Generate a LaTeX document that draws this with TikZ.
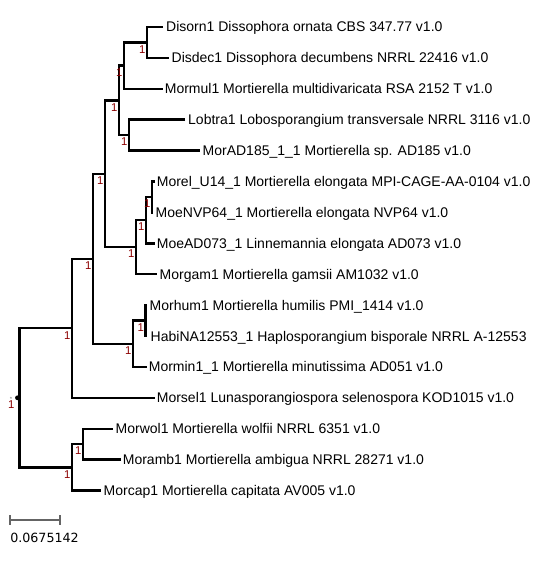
\documentclass[tikz,border=0pt]{standalone}
\usepackage{fontspec}
\setmainfont{Liberation Sans}
\newfontfamily\dejavu{DejaVu Sans}
\definecolor{suppred}{RGB}{140,0,0}
\definecolor{scalegrey}{RGB}{100,100,100}
\begin{document}
\begin{tikzpicture}[x=0.75pt,y=-0.75pt,
  branch/.style={line width=1.8pt, black, line join=miter},
  tiplabel/.style={anchor=base west, inner sep=0pt, font=\fontsize{10.5pt}{12pt}\selectfont},
  supp/.style={anchor=north east, inner sep=0pt, text=suppred, font=\fontsize{8.5pt}{9pt}\selectfont},
  scalebar/.style={line width=1.3pt, scalegrey},
]
\useasboundingbox (0,0) rectangle (544,566);

% tips
\coordinate (t1) at (163,27);
\coordinate (t2) at (169,57.9);
\coordinate (t3) at (163,88.8);
\coordinate (t4) at (185,119.7);
\coordinate (t5) at (200,150.6);
\coordinate (t6) at (155,181.5);
\coordinate (t7) at (153,212.4);
\coordinate (t8) at (155,243.3);
\coordinate (t9) at (157,274.2);
\coordinate (t10) at (147,305.1);
\coordinate (t11) at (147,336);
\coordinate (t12) at (147,366.9);
\coordinate (t13) at (155,397.8);
\coordinate (t14) at (113,428.7);
\coordinate (t15) at (121,459.6);
\coordinate (t16) at (101,490.5);

% internal nodes
\coordinate (G) at (147,42.45);
\coordinate (H) at (124,65.63);
\coordinate (I) at (129,135.15);
\coordinate (F) at (119,100.39);
\coordinate (L) at (152,196.95);
\coordinate (K) at (146,220.13);
\coordinate (J) at (136,247.16);
\coordinate (E) at (105,173.78);
\coordinate (N) at (145.5,320.55);
\coordinate (M) at (133,343.73);
\coordinate (D) at (93,258.75);
\coordinate (A) at (72,328.28);
\coordinate (C) at (83,444.15);
\coordinate (B) at (72,467.33);
\coordinate (R) at (19.5,397.8);

% branches
\draw[branch] (t1) -| (G) |- (t2);
\draw[branch] (G) -| (H) |- (t3);
\draw[branch] (t4) -| (I) |- (t5);
\draw[branch] (H) -| (F) |- (I);
\draw[branch] (t6) -| (L) |- (t7);
\draw[branch] (L) -| (K) |- (t8);
\draw[branch] (K) -| (J) |- (t9);
\draw[branch] (F) -| (E) |- (J);
\draw[branch] (t10) -| (N) |- (t11);
\draw[branch] (N) -| (M) |- (t12);
\draw[branch] (E) -| (D) |- (M);
\draw[branch] (D) -| (A) |- (t13);
\draw[branch] (t14) -| (C) |- (t15);
\draw[branch] (C) -| (B) |- (t16);
\draw[branch] (A) -| (R) |- (B);

% root marks
\fill[black] ([xshift=-1.5pt]R) circle (1.8pt);
\fill[black!35] ([xshift=-6.4pt]R) circle (0.8pt);
\node[supp] (sR) at ([xshift=-3.6pt,yshift=-2.2pt]R) {1};

% support labels
\foreach \n in {G,H,I,F,L,K,J,E,N,M,D,A,C,B}{
  \node[supp] (s\n) at ([xshift=-0.9pt,yshift=-2.0pt]\n) {1};
}

% tip labels
\node[tiplabel] (l1) at ([xshift=2.2pt,yshift=-3.75pt]t1) {Disorn1 Dissophora ornata CBS 347.77 v1.0};
\node[tiplabel] (l2) at ([xshift=1.8pt,yshift=-3.75pt]t2) {Disdec1 Dissophora decumbens NRRL 22416 v1.0};
\node[tiplabel] (l3) at ([xshift=1.2pt,yshift=-3.75pt]t3) {Mormul1 Mortierella multidivaricata RSA 2152 T v1.0};
\node[tiplabel] (l4) at ([xshift=2.2pt,yshift=-3.75pt]t4) {Lobtra1 Lobosporangium transversale NRRL 3116 v1.0};
\node[tiplabel] (l5) at ([xshift=1.8pt,yshift=-3.75pt]t5) {MorAD185\_1\_1 Mortierella sp. AD185 v1.0};
\node[tiplabel] (l6) at ([xshift=1.2pt,yshift=-3.75pt]t6) {Morel\_U14\_1 Mortierella elongata MPI-CAGE-AA-0104 v1.0};
\node[tiplabel] (l7) at ([xshift=1.8pt,yshift=-3.75pt]t7) {MoeNVP64\_1 Mortierella elongata NVP64 v1.0};
\node[tiplabel] (l8) at ([xshift=1.2pt,yshift=-3.75pt]t8) {MoeAD073\_1 Linnemannia elongata AD073 v1.0};
\node[tiplabel] (l9) at ([xshift=1.8pt,yshift=-3.75pt]t9) {Morgam1 Mortierella gamsii AM1032 v1.0};
\node[tiplabel] (l10) at ([xshift=1.8pt,yshift=-3.75pt]t10) {Morhum1 Mortierella humilis PMI\_1414 v1.0};
\node[tiplabel] (l11) at ([xshift=2.6pt,yshift=-3.75pt]t11) {HabiNA12553\_1 Haplosporangium bisporale NRRL A-12553};
\node[tiplabel] (l12) at ([xshift=1.2pt,yshift=-3.75pt]t12) {Mormin1\_1 Mortierella minutissima AD051 v1.0};
\node[tiplabel] (l13) at ([xshift=1.2pt,yshift=-3.75pt]t13) {Morsel1 Lunasporangiospora selenospora KOD1015 v1.0};
\node[tiplabel] (l14) at ([xshift=1.8pt,yshift=-3.75pt]t14) {Morwol1 Mortierella wolfii NRRL 6351 v1.0};
\node[tiplabel] (l15) at ([xshift=1.2pt,yshift=-3.75pt]t15) {Moramb1 Mortierella ambigua NRRL 28271 v1.0};
\node[tiplabel] (l16) at ([xshift=1.8pt,yshift=-3.75pt]t16) {Morcap1 Mortierella capitata AV005 v1.0};

% scale bar
\coordinate (s1) at (10,520);
\coordinate (s2) at (60,520);
\draw[scalebar] (s1) -- (s2);
\draw[scalebar] ([yshift=3.75pt]s1) -- ([yshift=-3.75pt]s1);
\draw[scalebar] ([yshift=3.75pt]s2) -- ([yshift=-3.75pt]s2);
\node[anchor=base west, inner sep=0pt, font=\dejavu\fontsize{9.5pt}{11pt}\selectfont] (scaletext) at ([yshift=-16.5pt]s1) {0.0675142};
\end{tikzpicture}
\end{document}
